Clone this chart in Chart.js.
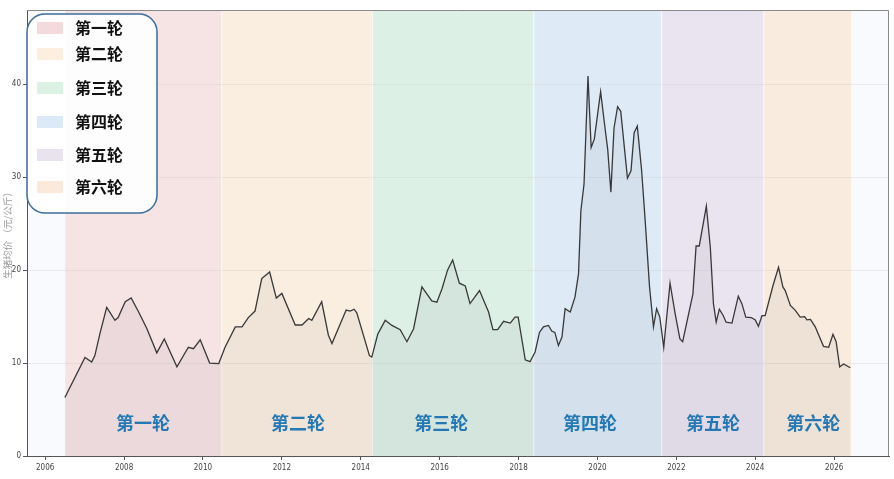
<!DOCTYPE html>
<html>
<head>
<meta charset="utf-8">
<script src="https://cdn.jsdelivr.net/npm/chart.js@4.4.1/dist/chart.umd.min.js"></script>
<style>
  html, body { margin: 0; padding: 0; background: #fff; }
  #wrap { width: 894px; height: 479px; }
</style>
</head>
<body>
<div id="wrap"><canvas id="myChart"></canvas></div>
<script>
"use strict";
// dates as decimal years, prices in 元/公斤
const dates = [
  2006.50, 2007.01, 2007.18, 2007.26, 2007.39, 2007.56, 2007.77, 2007.85, 2008.03, 2008.18,
  2008.37, 2008.58, 2008.83, 2009.02, 2009.34, 2009.63, 2009.76, 2009.93, 2010.17, 2010.40,
  2010.56, 2010.82, 2010.99, 2011.15, 2011.32, 2011.49, 2011.69, 2011.86, 2012.00, 2012.34,
  2012.51, 2012.68, 2012.76, 2013.01, 2013.18, 2013.27, 2013.63, 2013.73, 2013.83, 2013.90,
  2014.22, 2014.28, 2014.43, 2014.62, 2014.79, 2015.00, 2015.17, 2015.34, 2015.55, 2015.80,
  2015.93, 2016.06, 2016.20, 2016.33, 2016.50, 2016.65, 2016.77, 2017.01, 2017.24, 2017.35,
  2017.47, 2017.62, 2017.79, 2017.91, 2017.99, 2018.17, 2018.29, 2018.42, 2018.53, 2018.63,
  2018.76, 2018.84, 2018.92, 2019.01, 2019.10, 2019.18, 2019.31, 2019.43, 2019.52, 2019.58,
  2019.66, 2019.76, 2019.84, 2019.92, 2020.08, 2020.20, 2020.26, 2020.34, 2020.42, 2020.51,
  2020.59, 2020.76, 2020.85, 2020.93, 2021.01, 2021.12, 2021.21, 2021.32, 2021.42, 2021.50,
  2021.58, 2021.68, 2021.84, 2021.97, 2022.09, 2022.16, 2022.42, 2022.50, 2022.58, 2022.76,
  2022.86, 2022.94, 2023.01, 2023.09, 2023.19, 2023.26, 2023.41, 2023.57, 2023.66, 2023.76,
  2023.90, 2024.00, 2024.08, 2024.17, 2024.25, 2024.45, 2024.59, 2024.70, 2024.76, 2024.89,
  2025.01, 2025.14, 2025.25, 2025.31, 2025.40, 2025.52, 2025.73, 2025.86, 2025.97, 2026.05,
  2026.14, 2026.24, 2026.41
];
const prices = [
  6.3, 10.6, 10.1, 10.8, 13.2, 16.0, 14.6, 14.9, 16.6, 17.0,
  15.5, 13.7, 11.1, 12.6, 9.6, 11.7, 11.55, 12.5, 10.0, 9.95,
  11.7, 13.9, 13.9, 14.9, 15.6, 19.1, 19.8, 17.0, 17.5, 14.1,
  14.1, 14.8, 14.6, 16.6, 13.0, 12.1, 15.7, 15.6, 15.8, 15.4,
  10.8, 10.65, 13.1, 14.6, 14.05, 13.6, 12.3, 13.7, 18.2, 16.7,
  16.55, 18.0, 20.0, 21.1, 18.6, 18.3, 16.4, 17.8, 15.5, 13.6,
  13.6, 14.5, 14.3, 14.95, 14.95, 10.35, 10.15, 11.2, 13.3, 13.9,
  14.05, 13.45, 13.3, 11.9, 12.8, 15.85, 15.5, 17.1, 19.6, 26.4,
  29.3, 40.9, 33.2, 34.1, 39.2, 35.0, 33.0, 28.4, 35.3, 37.6,
  37.1, 29.9, 30.7, 34.8, 35.5, 30.7, 25.3, 18.2, 13.9, 15.85,
  14.95, 11.7, 18.6, 15.3, 12.6, 12.3, 17.45, 22.6, 22.6, 26.9,
  22.5, 16.4, 14.4, 15.8, 15.1, 14.4, 14.3, 17.2, 16.4, 14.95,
  14.9, 14.65, 13.95, 15.1, 15.1, 18.35, 20.3, 18.2, 17.8, 16.2,
  15.7, 14.95, 15.0, 14.65, 14.7, 13.9, 11.8, 11.7, 13.1, 12.3,
  9.6, 9.9, 9.5
];

const roundNames = ["第一轮", "第二轮", "第三轮", "第四轮", "第五轮", "第六轮"];
const roundStart = [2006.51, 2010.49, 2014.31, 2018.40, 2021.64, 2024.23];
const roundEnd = [2010.46, 2014.29, 2018.37, 2021.61, 2024.20, 2026.43];
const roundLabelAt = [2008.48, 2012.41, 2016.04, 2019.81, 2022.93, 2025.47];
const roundColors = ["#f6e3e4", "#faeee0", "#ddf0e6", "#deebf6", "#e9e4f0", "#f9ebde"];
const legendColors = ["#f5dadd", "#fcefe0", "#dcf2e5", "#dceaf7", "#e8e3ef", "#fbeadb"];

const yearTicks = [2006, 2008, 2010, 2012, 2014, 2016, 2018, 2020, 2022, 2024, 2026];
const priceTicks = [0, 10, 20, 30, 40];

const points = dates.map((d, i) => ({ x: d, y: prices[i] }));

const bandsPlugin = {
  id: "bands",
  beforeDraw(chart) {
    const { ctx, chartArea: a, scales } = chart;
    ctx.save();
    ctx.fillStyle = "#f8fafd";
    ctx.fillRect(a.left, a.top, a.right - a.left, a.bottom - a.top);
    roundStart.forEach((s, i) => {
      const x1 = scales.x.getPixelForValue(s);
      const x2 = scales.x.getPixelForValue(roundEnd[i]);
      ctx.fillStyle = roundColors[i];
      ctx.fillRect(x1, a.top, x2 - x1, a.bottom - a.top);
    });
    ctx.restore();
  },
  afterDatasetsDraw(chart) {
    const { ctx, scales } = chart;
    ctx.save();
    ctx.font = "bold 18px 'Noto Sans CJK SC'";
    ctx.fillStyle = "#2479b4";
    ctx.textAlign = "center";
    ctx.textBaseline = "middle";
    roundNames.forEach((name, i) => {
      ctx.fillText(name, scales.x.getPixelForValue(roundLabelAt[i]), scales.y.getPixelForValue(3.5));
    });
    ctx.restore();
  },
  afterDraw(chart) {
    const { ctx, chartArea: a } = chart;
    ctx.save();
    // frame
    ctx.strokeStyle = "#8a8a8a";
    ctx.lineWidth = 1;
    ctx.beginPath();
    ctx.moveTo(a.left, a.top + 0.5);
    ctx.lineTo(a.right - 0.5, a.top + 0.5);
    ctx.lineTo(a.right - 0.5, a.bottom);
    ctx.stroke();

    // legend box
    const bx = a.left, by = 14, bw = 130, bh = 199, r = 18;
    ctx.beginPath();
    ctx.roundRect(bx, by, bw, bh, r);
    ctx.fillStyle = "rgba(255,255,255,0.9)";
    ctx.fill();
    ctx.strokeStyle = "#3d6d9b";
    ctx.lineWidth = 1.5;
    ctx.stroke();
    const rows = [14, 40, 74, 108, 141, 173];
    ctx.font = "bold 16px 'Noto Sans CJK SC'";
    ctx.textBaseline = "middle";
    ctx.textAlign = "left";
    roundNames.forEach((name, i) => {
      const cy = by + rows[i];
      ctx.fillStyle = legendColors[i];
      ctx.fillRect(bx + 10, cy - 6, 26, 12);
      ctx.fillStyle = "#111";
      ctx.fillText(name, bx + 48, cy);
    });
    ctx.restore();
  }
};

const ctx = document.getElementById("myChart");
const myChart = new Chart(ctx, {
  type: "line",
  data: {
    datasets: [
      {
        label: "生猪均价",
        data: points,
        borderColor: "#383838",
        borderWidth: 1.3,
        backgroundColor: "rgba(70,70,90,0.06)",
        fill: "origin",
        pointRadius: 0,
        tension: 0,
      },
    ],
  },
  options: {
    responsive: true,
    maintainAspectRatio: false,
    animation: false,
    layout: { padding: { top: 10, right: 5, left: 0, bottom: 0 } },
    plugins: { legend: { display: false }, tooltip: { enabled: false } },
    scales: {
      x: {
        type: "linear",
        min: 2005.54,
        max: 2027.39,
        afterBuildTicks: (axis) => { axis.ticks = yearTicks.map((v) => ({ value: v })); },
        afterFit: (axis) => { axis.height = 23; },
        grid: { drawOnChartArea: false, tickLength: 4, tickColor: "#555" },
        border: { color: "#555", width: 1 },
        ticks: {
          callback: (v) => String(v),
          color: "#444",
          font: { size: 8, family: "'Liberation Sans Narrow', 'DejaVu Sans Condensed', 'DejaVu Sans'" },
          padding: 3,
          maxRotation: 0,
        },
      },
      y: {
        min: 0,
        max: 48,
        afterBuildTicks: (axis) => { axis.ticks = priceTicks.map((v) => ({ value: v })); },
        afterFit: (axis) => { axis.width = 27; },
        grid: { color: "rgba(190,190,190,0.25)", tickLength: 4, tickColor: "#555" },
        border: { color: "#555", width: 1 },
        ticks: {
          color: "#444",
          font: { size: 8, family: "'Liberation Sans Narrow', 'DejaVu Sans Condensed', 'DejaVu Sans'" },
          padding: 2,
        },
        title: {
          display: true,
          text: "生猪均价 （元/公斤）",
          color: "#999",
          font: { size: 9.5, family: "'Noto Sans CJK SC'" },
          padding: { top: 2, bottom: 0 },
        },
      },
    },
  },
  plugins: [bandsPlugin],
});
</script>
</body>
</html>
